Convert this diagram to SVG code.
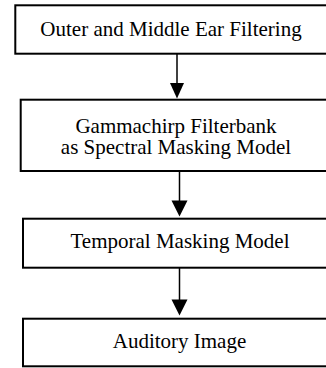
<svg xmlns="http://www.w3.org/2000/svg" width="326" height="368" viewBox="0 0 326 368">
<style>
.box{fill:#fff;stroke:#000;stroke-width:2}
.lbl{font-family:"Liberation Serif","Times New Roman",serif;font-size:21px;fill:#000;text-anchor:middle}
.conn{stroke:#000;stroke-width:1.5;fill:none}
.head{fill:#000}
</style>
<rect width="326" height="368" fill="#fff"/>
<g id="connectors">
<line class="conn" x1="177" y1="54" x2="177" y2="86"/>
<polygon class="head" points="170,83 184,83 177,98.5"/>
<line class="conn" x1="179.5" y1="171" x2="179.5" y2="203"/>
<polygon class="head" points="171.5,200.5 187.5,200.5 179.5,216.5"/>
<line class="conn" x1="179.5" y1="268" x2="179.5" y2="302"/>
<polygon class="head" points="171.5,299.5 187.5,299.5 179.5,315.5"/>
</g>
<g id="node1">
<rect class="box" x="15.3" y="5.3" width="330" height="48.4"/>
<text class="lbl" x="171" y="35.5">Outer and Middle Ear Filtering</text>
</g>
<g id="node2">
<rect class="box" x="20.7" y="99.7" width="330" height="71.3"/>
<text class="lbl" x="176" y="132.5"><tspan x="176" y="132.5">Gammachirp Filterbank</tspan><tspan x="176" y="154">as Spectral Masking Model</tspan></text>
</g>
<g id="node3">
<rect class="box" x="23" y="218.7" width="330" height="49"/>
<text class="lbl" x="180" y="248">Temporal Masking Model</text>
</g>
<g id="node4">
<rect class="box" x="23" y="318.7" width="330" height="47.6"/>
<text class="lbl" x="179.5" y="347.5">Auditory Image</text>
</g>
</svg>
